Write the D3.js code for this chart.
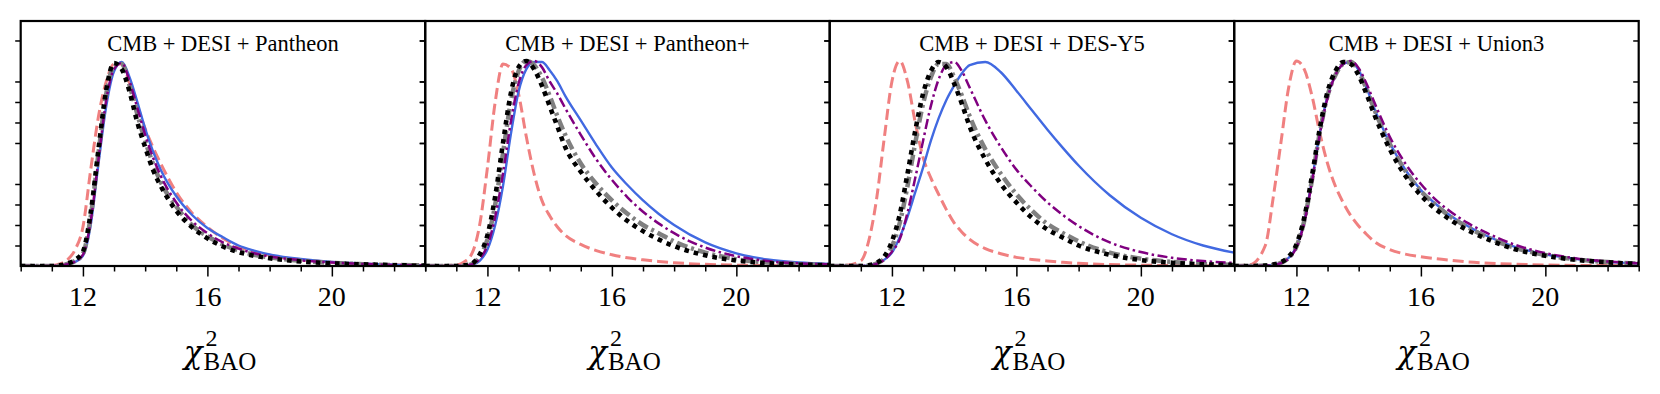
<!DOCTYPE html>
<html>
<head>
<meta charset="utf-8">
<title>chi2 BAO posteriors</title>
<script src="https://cdn.jsdelivr.net/npm/d3@7"></script>
<style>
  body { margin: 0; background: #fff; }
  text { font-family: "Liberation Serif", "Times New Roman", serif; fill: #000; }
</style>
</head>
<body>
<div id="chart"></div>
<script>
// panel titles
var titles = ["CMB + DESI + Pantheon", "CMB + DESI + Pantheon+", "CMB + DESI + DES-Y5", "CMB + DESI + Union3"];

// chi2 grid shared by every curve
var xs = [10, 10.5, 11, 11.25, 11.5, 11.75, 12, 12.25, 12.5, 12.75, 13, 13.25, 13.5, 13.75, 14, 14.25, 14.5, 15, 15.5, 16, 16.5, 17, 17.5, 18, 19, 20, 21, 22, 23];

var xMajor = [12, 16, 20];
var xMinor = [10, 11, 13, 14, 15, 17, 18, 19, 21, 22, 23];
var yTicks = [0.1, 0.2, 0.3, 0.4, 0.6, 0.7, 0.8, 0.9, 1.1];

// one row per panel (Pantheon, Pantheon+, DES-Y5, Union3)
var dashedRed = [
  [0, 0, 0.002, 0.01, 0.03, 0.08, 0.19, 0.47, 0.73, 0.9, 0.985, 0.985, 0.89, 0.78, 0.67, 0.58, 0.5, 0.36, 0.26, 0.19, 0.135, 0.095, 0.07, 0.052, 0.03, 0.018, 0.01, 0.006, 0.003],
  [0, 0.001, 0.005, 0.02, 0.06, 0.2, 0.48, 0.8, 0.985, 0.965, 0.84, 0.63, 0.45, 0.32, 0.245, 0.19, 0.15, 0.105, 0.075, 0.055, 0.04, 0.03, 0.022, 0.016, 0.008, 0.004, 0.002, 0.001, 0],
  [0, 0.003, 0.025, 0.12, 0.32, 0.62, 0.9, 1.0, 0.9, 0.7, 0.53, 0.43, 0.35, 0.275, 0.21, 0.165, 0.13, 0.085, 0.06, 0.042, 0.032, 0.024, 0.018, 0.013, 0.007, 0.004, 0.002, 0.001, 0],
  [0, 0.006, 0.1, 0.33, 0.6, 0.87, 1.0, 0.96, 0.83, 0.65, 0.5, 0.39, 0.31, 0.245, 0.195, 0.155, 0.12, 0.08, 0.058, 0.045, 0.035, 0.027, 0.02, 0.015, 0.009, 0.005, 0.003, 0.002, 0.001]
];
var solidBlue = [
  [0, 0, 0, 0.002, 0.008, 0.02, 0.05, 0.2, 0.5, 0.78, 0.95, 0.995, 0.92, 0.8, 0.67, 0.56, 0.47, 0.34, 0.25, 0.185, 0.14, 0.1, 0.075, 0.056, 0.034, 0.02, 0.012, 0.006, 0.003],
  [0, 0, 0, 0.001, 0.005, 0.025, 0.08, 0.2, 0.39, 0.64, 0.85, 0.96, 0.995, 0.995, 0.955, 0.9, 0.83, 0.71, 0.59, 0.48, 0.395, 0.32, 0.255, 0.2, 0.115, 0.062, 0.032, 0.017, 0.01],
  [0, 0, 0, 0.003, 0.012, 0.03, 0.065, 0.14, 0.24, 0.36, 0.48, 0.61, 0.72, 0.81, 0.88, 0.94, 0.98, 0.995, 0.945, 0.855, 0.76, 0.665, 0.575, 0.49, 0.345, 0.235, 0.155, 0.1, 0.065],
  [0, 0, 0.002, 0.006, 0.015, 0.04, 0.095, 0.22, 0.42, 0.65, 0.83, 0.93, 0.985, 0.995, 0.955, 0.87, 0.77, 0.6, 0.47, 0.37, 0.3, 0.24, 0.195, 0.155, 0.095, 0.057, 0.034, 0.02, 0.012]
];
var dashDotPurple = [
  [0, 0, 0, 0.002, 0.009, 0.022, 0.055, 0.22, 0.52, 0.81, 0.96, 0.99, 0.9, 0.77, 0.64, 0.53, 0.44, 0.31, 0.22, 0.16, 0.115, 0.085, 0.062, 0.047, 0.028, 0.017, 0.01, 0.005, 0.003],
  [0, 0, 0, 0.002, 0.008, 0.035, 0.1, 0.24, 0.45, 0.7, 0.89, 0.98, 1.0, 0.97, 0.9, 0.84, 0.77, 0.64, 0.52, 0.42, 0.335, 0.265, 0.208, 0.16, 0.09, 0.048, 0.024, 0.013, 0.008],
  [0, 0, 0, 0.002, 0.01, 0.03, 0.07, 0.13, 0.26, 0.43, 0.61, 0.78, 0.91, 0.98, 0.995, 0.95, 0.87, 0.71, 0.58, 0.47, 0.385, 0.31, 0.248, 0.195, 0.115, 0.068, 0.04, 0.024, 0.015],
  [0, 0, 0.002, 0.005, 0.014, 0.037, 0.09, 0.21, 0.41, 0.64, 0.82, 0.93, 0.985, 1.0, 0.965, 0.89, 0.8, 0.63, 0.5, 0.4, 0.32, 0.26, 0.21, 0.17, 0.105, 0.063, 0.037, 0.022, 0.013]
];
var dashDotGray = [
  [0, 0, 0, 0.003, 0.01, 0.025, 0.06, 0.24, 0.55, 0.84, 0.975, 0.985, 0.88, 0.74, 0.61, 0.5, 0.41, 0.29, 0.2, 0.145, 0.105, 0.075, 0.055, 0.042, 0.025, 0.015, 0.009, 0.005, 0.003],
  [0, 0, 0, 0.002, 0.01, 0.045, 0.13, 0.3, 0.55, 0.8, 0.95, 1.0, 0.98, 0.92, 0.83, 0.73, 0.64, 0.5, 0.4, 0.32, 0.255, 0.2, 0.16, 0.12, 0.065, 0.033, 0.017, 0.009, 0.005],
  [0, 0, 0, 0.003, 0.012, 0.035, 0.095, 0.21, 0.39, 0.6, 0.79, 0.92, 0.985, 0.985, 0.92, 0.83, 0.73, 0.57, 0.45, 0.35, 0.27, 0.205, 0.16, 0.12, 0.065, 0.036, 0.02, 0.011, 0.006],
  [0, 0, 0.002, 0.006, 0.015, 0.04, 0.095, 0.22, 0.42, 0.65, 0.83, 0.93, 0.985, 0.995, 0.95, 0.865, 0.765, 0.595, 0.465, 0.365, 0.295, 0.235, 0.19, 0.15, 0.09, 0.054, 0.032, 0.019, 0.011]
];
var dottedBlack = [
  [0, 0, 0, 0.003, 0.012, 0.03, 0.07, 0.26, 0.57, 0.86, 0.99, 0.96, 0.85, 0.7, 0.58, 0.47, 0.39, 0.27, 0.19, 0.135, 0.095, 0.068, 0.05, 0.038, 0.022, 0.013, 0.008, 0.004, 0.002],
  [0, 0, 0, 0.003, 0.012, 0.055, 0.15, 0.34, 0.6, 0.84, 0.97, 1.0, 0.96, 0.88, 0.78, 0.68, 0.58, 0.46, 0.365, 0.285, 0.22, 0.17, 0.13, 0.097, 0.052, 0.027, 0.014, 0.007, 0.004],
  [0, 0, 0, 0.004, 0.015, 0.045, 0.12, 0.25, 0.45, 0.66, 0.84, 0.95, 0.995, 0.97, 0.89, 0.79, 0.68, 0.52, 0.4, 0.31, 0.235, 0.178, 0.138, 0.1, 0.055, 0.029, 0.016, 0.008, 0.005],
  [0, 0, 0.002, 0.007, 0.018, 0.045, 0.105, 0.235, 0.44, 0.67, 0.85, 0.95, 0.995, 0.985, 0.93, 0.84, 0.74, 0.57, 0.44, 0.345, 0.275, 0.22, 0.175, 0.14, 0.083, 0.05, 0.03, 0.018, 0.01]
];

// drawing order: red, blue, gray, purple, black on top
var series = [
  {vals: dashedRed, color: "#f08080", width: 3, dash: "11,5"},
  {vals: solidBlue, color: "#4169e1", width: 2.4, dash: null},
  {vals: dashDotGray, color: "#808080", width: 4.5, dash: "11,4,3,4"},
  {vals: dashDotPurple, color: "#800080", width: 2.5, dash: "10,3.5,2.5,3.5"},
  {vals: dottedBlack, color: "#000000", width: 4.6, dash: "4.6,5"}
];

var W = 1660, H = 394;
var plotLeft = 20.7, panelW = 404.5, plotTop = 21, plotBottom = 266;

var svg = d3.select("#chart").append("svg")
    .attr("width", W)
    .attr("height", H);

var panelX = d3.scaleBand()
    .domain(d3.range(titles.length))
    .range([plotLeft, plotLeft + panelW * titles.length])
    .padding(0);

var y = d3.scaleLinear().domain([0, 1.195]).range([plotBottom, plotTop]);

titles.forEach(function(title, p) {
  var x0 = panelX(p);
  var x = d3.scaleLinear().domain([10, 23]).range([x0, x0 + panelW]);
  var g = svg.append("g");

  g.append("clipPath").attr("id", "clip" + p)
    .append("rect")
      .attr("x", x0).attr("y", plotTop)
      .attr("width", panelW).attr("height", plotBottom - plotTop);

  var line = d3.line()
      .x(function(d) { return x(d[0]); })
      .y(function(d) { return y(d[1]); })
      .curve(d3.curveMonotoneX);

  var curves = g.append("g").attr("clip-path", "url(#clip" + p + ")");
  series.forEach(function(s) {
    var pts = xs.map(function(v, i) { return [v, s.vals[p][i]]; });
    curves.append("path")
      .attr("d", line(pts))
      .attr("fill", "none")
      .attr("stroke", s.color)
      .attr("stroke-width", s.width)
      .attr("stroke-dasharray", s.dash)
      .attr("stroke-linejoin", "round");
  });

  // ticks
  var minorAxis = d3.axisBottom(x).tickValues(xMinor).tickSize(5.5).tickFormat("");
  var majorAxis = d3.axisBottom(x).tickValues(xMajor).tickSize(10.5).tickFormat("");
  [minorAxis, majorAxis].forEach(function(ax) {
    var a = g.append("g").attr("transform", "translate(0," + plotBottom + ")").call(ax);
    a.select(".domain").remove();
    a.selectAll("line").attr("stroke", "#000").attr("stroke-width", 1.5);
  });
  var yl = g.append("g").attr("transform", "translate(" + x0 + ",0)")
      .call(d3.axisLeft(y).tickValues(yTicks).tickSize(5.5).tickFormat(""));
  var yr = g.append("g").attr("transform", "translate(" + (x0 + panelW) + ",0)")
      .call(d3.axisRight(y).tickValues(yTicks).tickSize(-5.5).tickFormat(""));
  [yl, yr].forEach(function(a) {
    a.select(".domain").remove();
    a.selectAll("line").attr("stroke", "#000").attr("stroke-width", 1.5);
  });

  g.selectAll("text.tl")
    .data(xMajor)
    .enter().append("text")
      .attr("class", "tl")
      .attr("x", function(d) { return x(d); })
      .attr("y", 305.5)
      .attr("text-anchor", "middle")
      .style("font-size", "28px")
      .text(function(d) { return d; });

  // frame
  g.append("rect")
    .attr("x", x0).attr("y", plotTop)
    .attr("width", panelW).attr("height", plotBottom - plotTop)
    .attr("fill", "none")
    .attr("stroke", "#000")
    .attr("stroke-width", 2.2);

  g.append("text")
    .attr("x", x0 + panelW / 2)
    .attr("y", 50.7)
    .attr("text-anchor", "middle")
    .style("font-size", "22.5px")
    .text(title);

  // chi^2_BAO label
  var lab = g.append("g");
  var chi = lab.append("text").attr("x", 0).attr("y", 363)
      .style("font-family", "'DejaVu Serif', serif")
      .style("font-size", "31px").style("font-style", "italic").text("\u03c7");
  var cw = chi.node().getComputedTextLength();
  lab.append("text").attr("x", cw + 3).attr("y", 346)
      .style("font-size", "24px").text("2");
  var sub = lab.append("text").attr("x", cw + 1).attr("y", 370)
      .style("font-size", "25px").text("BAO");
  var total = cw + 1 + sub.node().getComputedTextLength();
  lab.attr("transform", "translate(" + (x0 + panelW / 2 - 3 - total / 2) + ",0)");
});
</script>
</body>
</html>
